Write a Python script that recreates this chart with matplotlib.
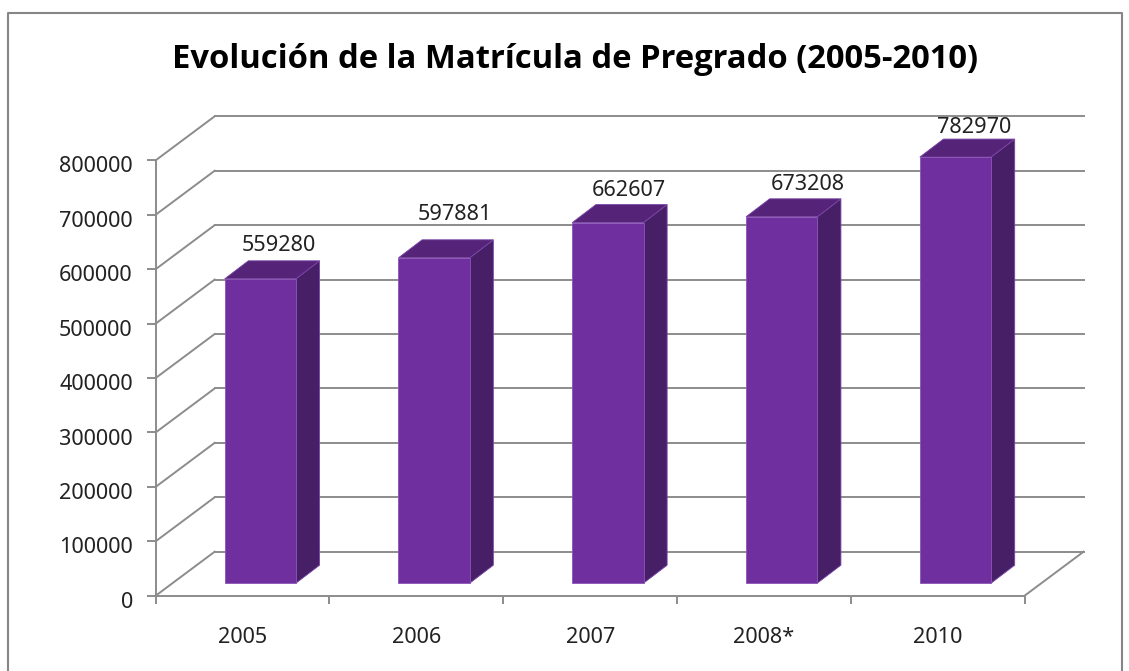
# Evolucion de la matricula de pregrado, barras con falsa perspectiva 3D
import matplotlib
matplotlib.use("Agg")
import matplotlib.pyplot as plt
from matplotlib.lines import Line2D
from matplotlib.patches import Polygon
from matplotlib.transforms import ScaledTranslation

years = ["2005", "2006", "2007", "2008*", "2010"]
values = [559280, 597881, 662607, 673208, 782970]
y_ticks = [0, 100000, 200000, 300000, 400000, 500000, 600000, 700000, 800000]
title = "Evolución de la Matrícula de Pregrado (2005-2010)"

W, H = 1129, 671
plt.rcParams["font.family"] = ["Noto Sans", "DejaVu Sans"]

# desplazamiento de cada etiqueta respecto a la cara trasera de la barra (pixeles)
label_dx = [6.7, 8.7, 9, 14.7, 7]
label_gap = [15.5, 25.5, 14.5, 14.5, 12]

fig = plt.figure(figsize=(W / 100, H / 100), dpi=100, facecolor="white")
ax = fig.add_axes([155.7 / W, (H - 595.7) / H, 868.9 / W, 435.4 / H])
ax.set_xlim(-0.5, 4.5)
ax.set_ylim(0, 800000)
ax.patch.set_alpha(0)

gray = "#8C8C8C"
text_color = "#222222"
# profundidad del suelo en unidades de datos
wall_dx = 59 / 173.8
wall_dy = 44 / 54.42 * 100000
# barras
bar_w = 0.41
bar_shift_x = 0.102
bar_shift_y = 12.5 / 54.42 * 100000
bar_dx = 0.136
bar_dy = 18 / 54.42 * 100000

# paredes: diagonales y lineas horizontales de fondo
for t in y_ticks:
    ax.plot([-0.5, -0.5 + wall_dx], [t, t + wall_dy], color=gray, lw=1.4, clip_on=False, zorder=1)
    ax.plot([-0.5 + wall_dx, 4.5 + wall_dx], [t + wall_dy, t + wall_dy], color=gray, lw=1.4, clip_on=False, zorder=1)
ax.plot([4.5, 4.5 + wall_dx], [0, wall_dy], color=gray, lw=1.4, clip_on=False, zorder=1)

for i, v in enumerate(values):
    x0 = i - bar_w / 2 + bar_shift_x
    x1 = x0 + bar_w
    y0 = bar_shift_y
    y1 = bar_shift_y + v
    front = [(x0, y0), (x1, y0), (x1, y1), (x0, y1)]
    side = [(x1, y0), (x1 + bar_dx, y0 + bar_dy), (x1 + bar_dx, y1 + bar_dy), (x1, y1)]
    top = [(x0, y1), (x1, y1), (x1 + bar_dx, y1 + bar_dy), (x0 + bar_dx, y1 + bar_dy)]
    ax.add_patch(Polygon(side, facecolor="#471F66", edgecolor="#7A45A8", lw=0.6, clip_on=False, zorder=3))
    ax.add_patch(Polygon(top, facecolor="#552478", edgecolor="#7A45A8", lw=0.6, clip_on=False, zorder=3))
    ax.add_patch(Polygon(front, facecolor="#6F2F9F", edgecolor="#8A55B5", lw=0.6, clip_on=False, zorder=4))
    ax.annotate(str(v), (x0 + (bar_w + bar_dx) / 2, y1 + bar_dy),
                xytext=(label_dx[i] * 0.72, label_gap[i] * 0.72),
                textcoords="offset points", ha="center", va="center",
                fontsize=15.6, color=text_color, annotation_clip=False, zorder=5)

ax.set_yticks(y_ticks)
ax.set_yticklabels([str(t) for t in y_ticks], fontsize=15.6, color=text_color)
ax.set_xticks([i - 0.5 for i in range(6)])
ax.set_xticklabels([])
ax.set_xticks(range(5), labels=years, minor=True, fontsize=15.6, color=text_color)
ax.tick_params(axis="y", length=6.5, width=1.4, color=gray, pad=10)
ax.tick_params(axis="x", which="major", length=6, width=1.4, color=gray)
ax.tick_params(axis="x", which="minor", length=0, pad=22.5)
for s in ["top", "right"]:
    ax.spines[s].set_visible(False)
for s in ["left", "bottom"]:
    ax.spines[s].set_color(gray)
    ax.spines[s].set_linewidth(1.4)

# las etiquetas del eje y van un poco por debajo de su marca
for lbl in ax.get_yticklabels():
    lbl.set_transform(lbl.get_transform() + ScaledTranslation(0, -3 / 72, fig.dpi_scale_trans))

fig.text(574.5 / W, (H - 68) / H, title, ha="center", va="baseline", fontsize=23.6,
         family=["Open Sans", "DejaVu Sans"], fontweight="bold", color="black")

# marco del grafico, cortado por abajo
fig.add_artist(Line2D([8 / W, 8 / W, 1122 / W, 1122 / W], [0, (H - 13) / H, (H - 13) / H, 0], color="#868686", lw=1.5))

fig.savefig("out.png", dpi=100)
